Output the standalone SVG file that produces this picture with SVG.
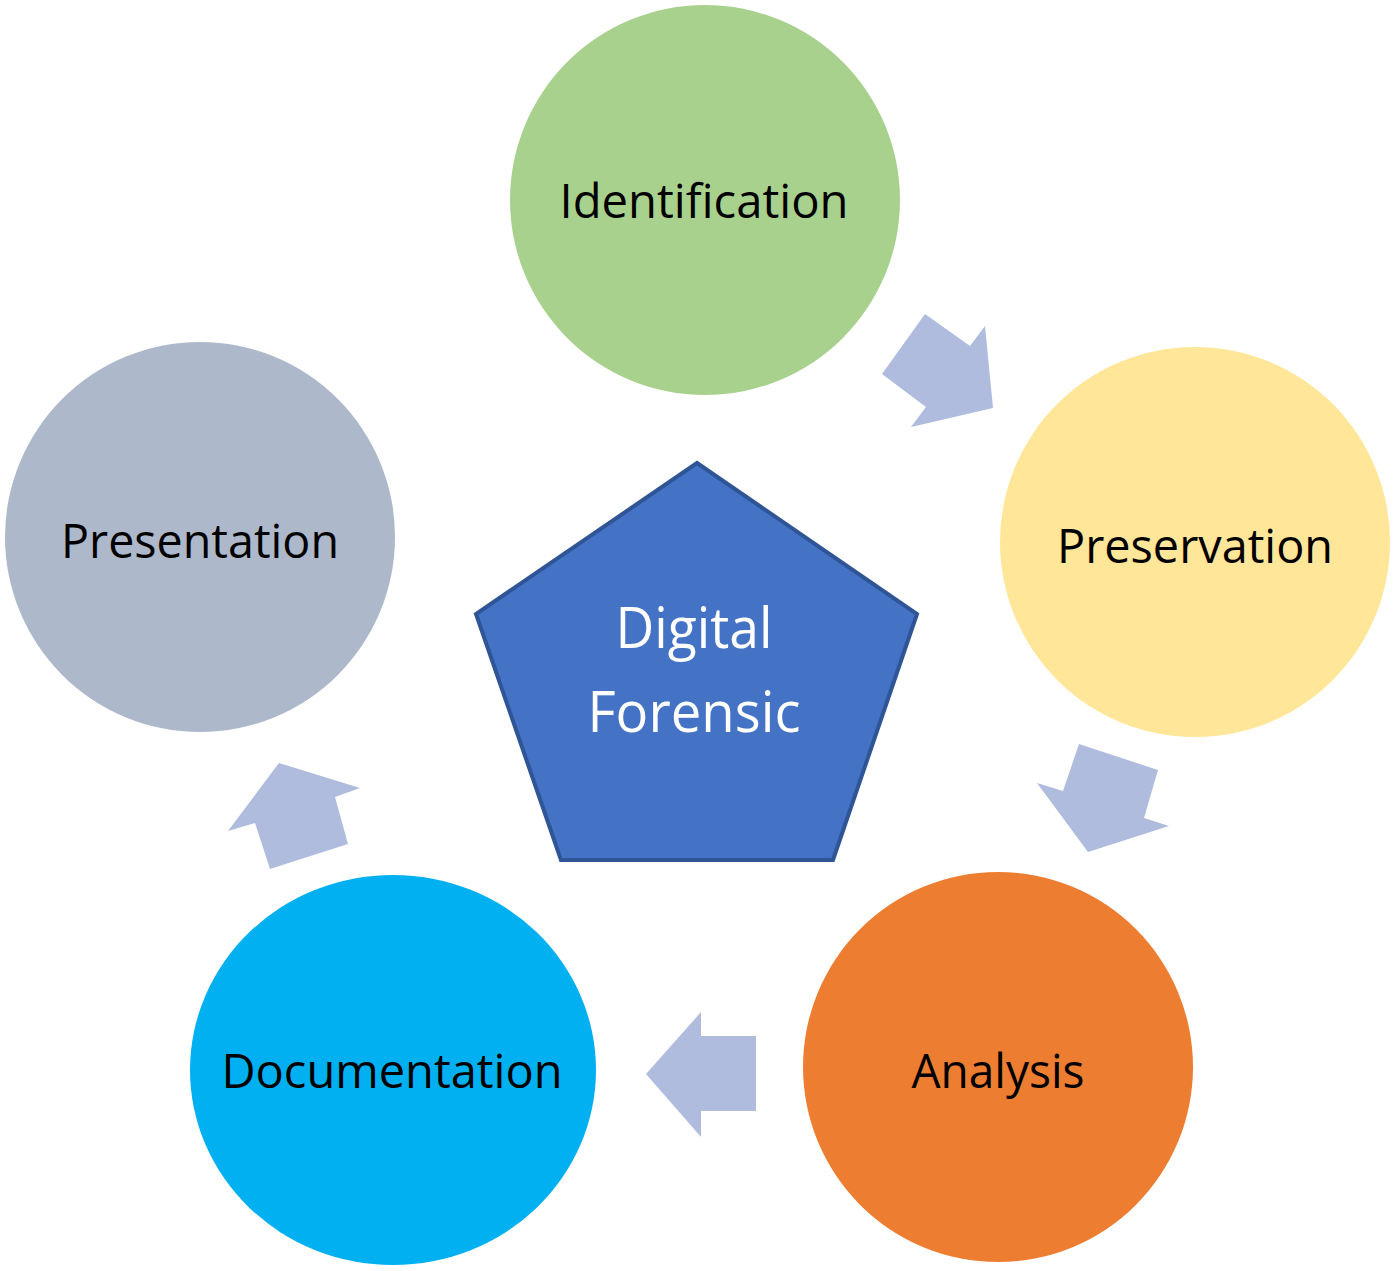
<svg xmlns="http://www.w3.org/2000/svg" width="1396" height="1271" viewBox="0 0 1396 1271">
<style>
.lbl{font-family:"Open Sans","Noto Sans","DejaVu Sans",sans-serif;font-size:48px;fill:#000;text-anchor:middle}
.ctr{font-family:"Open Sans","Noto Sans","DejaVu Sans",sans-serif;font-size:56px;fill:#fff;text-anchor:middle}
.arrow{fill:#AFBCDE}
</style>
<rect width="1396" height="1271" fill="#fff"/>
<g id="connectors">
<polygon class="arrow" points="925,314 970,346 985,326 993,408 911,427 926,407 882,374"/>
<polygon class="arrow" points="1079,744 1158,770 1144,818 1169,826 1088,852 1037,783 1063,791"/>
<polygon class="arrow" points="701,1012 701,1036 756,1036 756,1111 701,1111 701,1137 646,1074"/>
<polygon class="arrow" points="279,763 360,788 335,797 348,844 270,869 255,823 228,831"/>
</g>
<g id="identification">
<circle cx="705" cy="200" r="195" fill="#A9D18E"/>
<text class="lbl" x="704" y="218" textLength="289" lengthAdjust="spacingAndGlyphs">Identification</text>
</g>
<g id="preservation">
<circle cx="1195" cy="542" r="195" fill="#FFE699"/>
<text class="lbl" x="1195" y="563" textLength="276" lengthAdjust="spacingAndGlyphs">Preservation</text>
</g>
<g id="analysis">
<circle cx="998" cy="1067" r="195" fill="#ED7D31"/>
<text class="lbl" x="998" y="1088" textLength="173" lengthAdjust="spacingAndGlyphs">Analysis</text>
</g>
<g id="documentation">
<ellipse cx="393" cy="1070" rx="203" ry="195" fill="#00B0F0"/>
<text class="lbl" x="392" y="1088" textLength="341" lengthAdjust="spacingAndGlyphs">Documentation</text>
</g>
<g id="presentation">
<circle cx="200" cy="537" r="195" fill="#ADB9CA"/>
<text class="lbl" x="200" y="558" textLength="278" lengthAdjust="spacingAndGlyphs">Presentation</text>
</g>
<g id="digital-forensic">
<polygon points="697,463 917,614 833,860 561,860 476,614" fill="#4472C4" stroke="#2F5597" stroke-width="4" stroke-linejoin="miter"/>
<text class="ctr" x="694" y="648" textLength="157" lengthAdjust="spacingAndGlyphs">Digital</text>
<text class="ctr" x="694" y="732" textLength="213" lengthAdjust="spacingAndGlyphs">Forensic</text>
</g>
</svg>
